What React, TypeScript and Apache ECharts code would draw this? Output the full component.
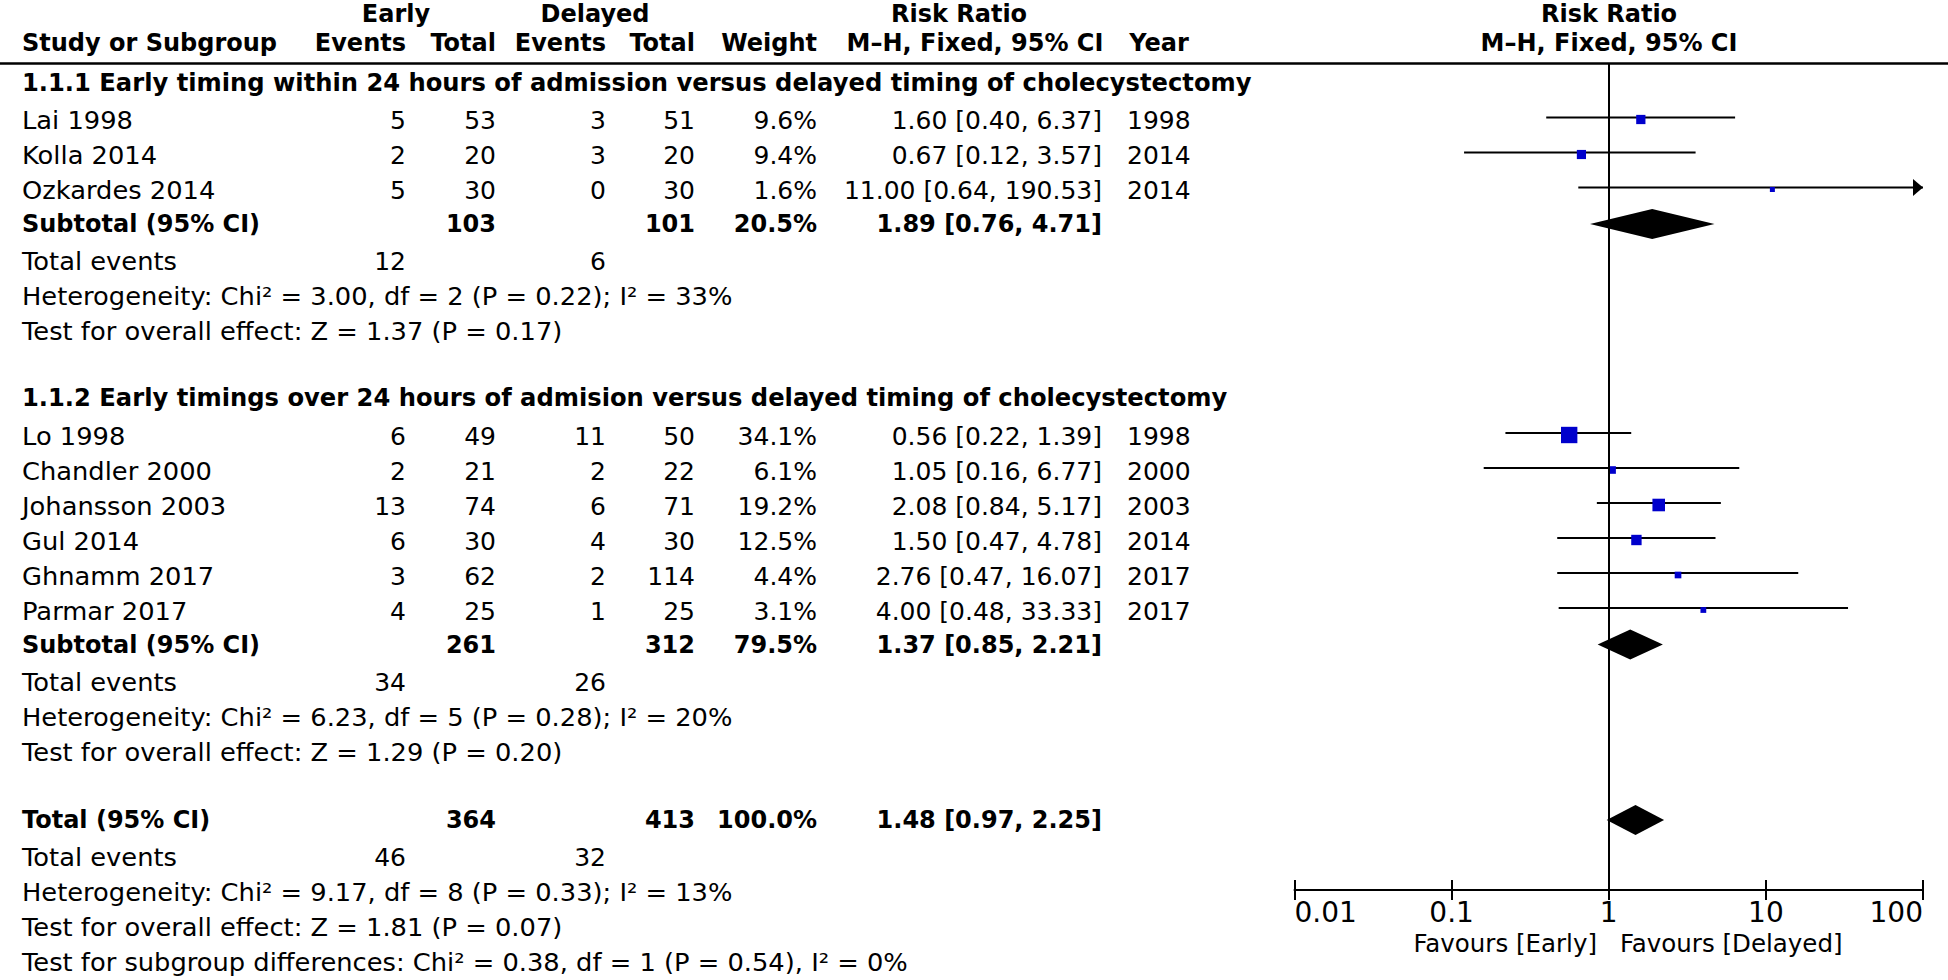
import React, { useEffect, useRef } from "react";
import * as echarts from "echarts";

// ---------------- DATA ----------------
const subgroupTitles = [
  "1.1.1 Early timing within 24 hours of admission versus delayed timing of cholecystectomy",
  "1.1.2 Early timings over 24 hours of admision versus delayed timing of cholecystectomy",
];

const studies = ["Lai 1998", "Kolla 2014", "Ozkardes 2014", "Lo 1998", "Chandler 2000", "Johansson 2003", "Gul 2014", "Ghnamm 2017", "Parmar 2017"];
const studyGroup = [0, 0, 0, 1, 1, 1, 1, 1, 1];
const earlyEvents = [5, 2, 5, 6, 2, 13, 6, 3, 4];
const earlyTotal = [53, 20, 30, 49, 21, 74, 30, 62, 25];
const delayedEvents = [3, 3, 0, 11, 2, 6, 4, 2, 1];
const delayedTotal = [51, 20, 30, 50, 22, 71, 30, 114, 25];
const weights = [9.6, 9.4, 1.6, 34.1, 6.1, 19.2, 12.5, 4.4, 3.1];
const riskRatio = [1.6, 0.67, 11.0, 0.56, 1.05, 2.08, 1.5, 2.76, 4.0];
const ciLower = [0.4, 0.12, 0.64, 0.22, 0.16, 0.84, 0.47, 0.47, 0.48];
const ciUpper = [6.37, 3.57, 190.53, 1.39, 6.77, 5.17, 4.78, 16.07, 33.33];
const years = [1998, 2014, 2014, 1998, 2000, 2003, 2014, 2017, 2017];

const subEarlyTotal = [103, 261];
const subDelayedTotal = [101, 312];
const subWeight = [20.5, 79.5];
const subRR = [1.89, 1.37];
const subLower = [0.76, 0.85];
const subUpper = [4.71, 2.21];
const subEarlyEvents = [12, 34];
const subDelayedEvents = [6, 26];
const subHeterogeneity = [
  "Heterogeneity: Chi² = 3.00, df = 2 (P = 0.22); I² = 33%",
  "Heterogeneity: Chi² = 6.23, df = 5 (P = 0.28); I² = 20%",
];
const subOverall = ["Test for overall effect: Z = 1.37 (P = 0.17)", "Test for overall effect: Z = 1.29 (P = 0.20)"];

const totalTotals = [364, 413];
const totalWeight = 100.0;
const totalEstimate = [1.48, 0.97, 2.25];
const totalEvents = [46, 32];
const totalHeterogeneity = "Heterogeneity: Chi² = 9.17, df = 8 (P = 0.33); I² = 13%";
const totalOverall = "Test for overall effect: Z = 1.81 (P = 0.07)";
const subgroupDifferences = "Test for subgroup differences: Chi² = 0.38, df = 1 (P = 0.54), I² = 0%";

const axisTickValues = [0.01, 0.1, 1, 10, 100];
const axisTickLabels = ["0.01", "0.1", "1", "10", "100"];
const favourLabels = ["Favours [Early]", "Favours [Delayed]"];

// ---------------- LAYOUT ----------------
const FONT = '"DejaVu Sans", Verdana, sans-serif';
const REG = 25;
const BOLD = 24;
const LABEL_STRETCH = 1.03;
const TITLE_STRETCH = 1.009;
const COL = { label: 22, ev1: 406, tot1: 496, ev2: 606, tot2: 695, weight: 817, ci: 1102, year: 1127 };
const STEP: Record<string, number> = {
  header: 67, firstStudy: 37.5, study: 35, subtotal: 33.5, events: 37.5, het: 35, test: 35, total: 68, diff: 35,
};
const FIRST_Y = 83;
const LINE_DY = -3;
const SQUARE_DY = -1;
const PLOT_LEFT = 1294.5;
const PLOT_RIGHT = 1923;
const PLOT_TOP = 64;
const AXIS_Y = 890;
const X_MIN = 0.01;
const X_MAX = 100;

const fmt2 = (v: number) => v.toFixed(2);
const ciText = (r: number, l: number, u: number) => `${fmt2(r)} [${fmt2(l)}, ${fmt2(u)}]`;
const pct = (w: number) => `${w.toFixed(1)}%`;

function T(text: string, x: number, y: number, align: string, bold = false, size?: number, stretch = 1) {
  const fs = size ?? (bold ? BOLD : REG);
  return {
    type: "text",
    x,
    y,
    scaleX: stretch,
    silent: true,
    style: {
      text,
      font: `${bold ? "bold " : ""}${fs}px ${FONT}`,
      fill: "#000",
      align,
      textAlign: align,
      verticalAlign: "middle",
      textVerticalAlign: "middle",
    },
  };
}

// regular, left-aligned label-column text
const L = (text: string, y: number) => T(text, COL.label, y, "left", false, REG, LABEL_STRETCH);

function buildLayout() {
  const texts: any[] = [];
  const ciData: number[][] = [];
  const squareData: number[][] = [];
  const diamondData: number[][] = [];
  let y = 0;
  let first = true;
  const advance = (k: string) => {
    y = first ? FIRST_Y : y + STEP[k];
    first = false;
  };

  for (let g = 0; g < subgroupTitles.length; g++) {
    advance("header");
    texts.push(T(subgroupTitles[g], COL.label, y, "left", true, BOLD, TITLE_STRETCH));
    let firstStudy = true;
    studies.forEach((name, i) => {
      if (studyGroup[i] !== g) return;
      advance(firstStudy ? "firstStudy" : "study");
      firstStudy = false;
      texts.push(L(name, y));
      texts.push(T(String(earlyEvents[i]), COL.ev1, y, "right"));
      texts.push(T(String(earlyTotal[i]), COL.tot1, y, "right"));
      texts.push(T(String(delayedEvents[i]), COL.ev2, y, "right"));
      texts.push(T(String(delayedTotal[i]), COL.tot2, y, "right"));
      texts.push(T(pct(weights[i]), COL.weight, y, "right"));
      texts.push(T(ciText(riskRatio[i], ciLower[i], ciUpper[i]), COL.ci, y, "right"));
      texts.push(T(String(years[i]), COL.year, y, "left"));
      ciData.push([ciLower[i], ciUpper[i], y + LINE_DY]);
      squareData.push([riskRatio[i], y + SQUARE_DY, weights[i]]);
    });
    advance("subtotal");
    texts.push(T("Subtotal (95% CI)", COL.label, y, "left", true));
    texts.push(T(String(subEarlyTotal[g]), COL.tot1, y, "right", true));
    texts.push(T(String(subDelayedTotal[g]), COL.tot2, y, "right", true));
    texts.push(T(pct(subWeight[g]), COL.weight, y, "right", true));
    texts.push(T(ciText(subRR[g], subLower[g], subUpper[g]), COL.ci, y, "right", true));
    diamondData.push([subRR[g], subLower[g], subUpper[g], y]);
    advance("events");
    texts.push(L("Total events", y));
    texts.push(T(String(subEarlyEvents[g]), COL.ev1, y, "right"));
    texts.push(T(String(subDelayedEvents[g]), COL.ev2, y, "right"));
    advance("het");
    texts.push(L(subHeterogeneity[g], y));
    advance("test");
    texts.push(L(subOverall[g], y));
  }
  advance("total");
  texts.push(T("Total (95% CI)", COL.label, y, "left", true));
  texts.push(T(String(totalTotals[0]), COL.tot1, y, "right", true));
  texts.push(T(String(totalTotals[1]), COL.tot2, y, "right", true));
  texts.push(T(pct(totalWeight), COL.weight, y, "right", true));
  texts.push(T(ciText(totalEstimate[0], totalEstimate[1], totalEstimate[2]), COL.ci, y, "right", true));
  diamondData.push([totalEstimate[0], totalEstimate[1], totalEstimate[2], y]);
  advance("events");
  texts.push(L("Total events", y));
  texts.push(T(String(totalEvents[0]), COL.ev1, y, "right"));
  texts.push(T(String(totalEvents[1]), COL.ev2, y, "right"));
  advance("het");
  texts.push(L(totalHeterogeneity, y));
  advance("test");
  texts.push(L(totalOverall, y));
  advance("diff");
  texts.push(L(subgroupDifferences, y));

  return { texts, ciData, squareData, diamondData };
}

function buildOption() {
  const { texts, ciData, squareData, diamondData } = buildLayout();
  const plotCenter = 1609;
  const headerTexts = [
    T("Early", 396, 13.5, "center", true),
    T("Delayed", 595, 13.5, "center", true),
    T("Risk Ratio", 959, 13.5, "center", true),
    T("Risk Ratio", plotCenter, 13.5, "center", true),
    T("Study or Subgroup", COL.label, 42.5, "left", true),
    T("Events", COL.ev1, 42.5, "right", true),
    T("Total", COL.tot1, 42.5, "right", true),
    T("Events", COL.ev2, 42.5, "right", true),
    T("Total", COL.tot2, 42.5, "right", true),
    T("Weight", COL.weight, 42.5, "right", true),
    T("M–H, Fixed, 95% CI", 975, 42.5, "center", true),
    T("Year", 1159, 42.5, "center", true),
    T("M–H, Fixed, 95% CI", plotCenter, 42.5, "center", true),
    T(favourLabels[0], plotCenter - 12, 943, "right", false, 24.5),
    T(favourLabels[1], plotCenter + 11, 943, "left", false, 24.5),
  ];
  const headerLine = {
    type: "line",
    silent: true,
    shape: { x1: 0, y1: 63.5, x2: 1948, y2: 63.5 },
    style: { stroke: "#000", lineWidth: 2.5 },
  };

  const tickLabel = (v: number) => {
    let best = 0;
    let bd = Infinity;
    axisTickValues.forEach((t, i) => {
      const d = Math.abs(Math.log10(t) - Math.log10(v));
      if (d < bd) {
        bd = d;
        best = i;
      }
    });
    return axisTickLabels[best];
  };

  const baseAxis = {
    type: "log",
    logBase: 10,
    min: X_MIN,
    max: X_MAX,
    position: "bottom",
    splitLine: { show: false },
  };

  return {
    animation: false,
    grid: { left: PLOT_LEFT, width: PLOT_RIGHT - PLOT_LEFT, top: PLOT_TOP, height: AXIS_Y - PLOT_TOP, containLabel: false },
    xAxis: [
      {
        ...baseAxis,
        axisLine: { show: true, lineStyle: { color: "#000", width: 2 } },
        axisTick: { show: true, length: 10, inside: false, lineStyle: { color: "#000", width: 2 } },
        axisLabel: {
          show: true,
          color: "#000",
          fontFamily: FONT,
          fontSize: 28,
          margin: 8,
          alignMinLabel: "left",
          alignMaxLabel: "right",
          formatter: tickLabel,
        },
      },
      {
        ...baseAxis,
        axisLine: { show: false },
        axisTick: { show: true, length: 10, inside: true, lineStyle: { color: "#000", width: 2 } },
        axisLabel: { show: false },
      },
    ],
    yAxis: { type: "value", min: PLOT_TOP, max: AXIS_Y, inverse: true, show: false },
    graphic: { elements: [headerLine, ...headerTexts, ...texts] },
    series: [
      {
        type: "custom",
        name: "ci",
        z: 2,
        silent: true,
        data: ciData,
        renderItem: (params: any, api: any) => {
          const lo = api.value(0);
          const hi = api.value(1);
          const yv = api.value(2);
          const p1 = api.coord([Math.max(lo, X_MIN), yv]);
          const p2 = api.coord([Math.min(hi, X_MAX), yv]);
          const children: any[] = [
            {
              type: "line",
              shape: { x1: p1[0], y1: p1[1], x2: p2[0], y2: p2[1] },
              style: { stroke: "#000", lineWidth: 2 },
            },
          ];
          if (hi > X_MAX) {
            children.push({
              type: "polygon",
              shape: { points: [[p2[0], p2[1]], [p2[0] - 10, p2[1] - 8.5], [p2[0] - 10, p2[1] + 8.5]] },
              style: { fill: "#000" },
            });
          }
          return { type: "group", children };
        },
        markLine: {
          silent: true,
          symbol: "none",
          label: { show: false },
          lineStyle: { color: "#000", width: 2, type: "solid" },
          data: [{ xAxis: 1 }],
        },
      },
      {
        type: "scatter",
        name: "studies",
        z: 3,
        silent: true,
        symbol: "rect",
        symbolSize: (val: number[]) => Math.max(5, 2.6 * Math.sqrt(val[2]) + 1.2),
        itemStyle: { color: "#0000cc", opacity: 1 },
        data: squareData,
      },
      {
        type: "custom",
        name: "diamonds",
        z: 3,
        silent: true,
        data: diamondData,
        renderItem: (params: any, api: any) => {
          const est = api.value(0);
          const lo = api.value(1);
          const hi = api.value(2);
          const yv = api.value(3);
          const pc = api.coord([est, yv]);
          const pl = api.coord([lo, yv]);
          const ph = api.coord([hi, yv]);
          const half = 15;
          return {
            type: "polygon",
            shape: { points: [[pl[0], pc[1]], [pc[0], pc[1] - half], [ph[0], pc[1]], [pc[0], pc[1] + half]] },
            style: { fill: "#000" },
          };
        },
      },
    ],
  };
}

export default function App() {
  const ref = useRef<HTMLDivElement>(null);
  useEffect(() => {
    if (!ref.current) return;
    const chart = echarts.init(ref.current, undefined, { renderer: "svg" });
    chart.setOption(buildOption() as any);
    return () => chart.dispose();
  }, []);
  return (
    <div
      ref={ref}
      style={{ position: "absolute", left: 0, top: 0, width: 1948, height: 980, background: "#fff" }}
    />
  );
}
